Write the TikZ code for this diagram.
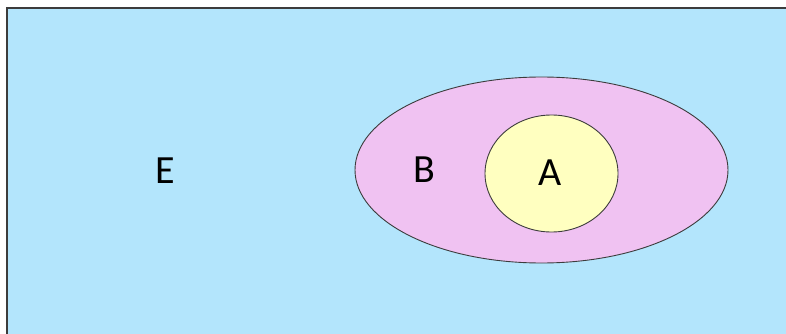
\documentclass[tikz,border=0pt]{standalone}
\usepackage{fontspec}
\setmainfont{Carlito}
\usetikzlibrary{shapes.geometric}
\definecolor{bgblue}{RGB}{179,229,252}
\definecolor{setB}{RGB}{240,194,242}
\definecolor{setA}{RGB}{255,255,192}
\definecolor{edge}{RGB}{60,60,60}
\tikzset{
  setshape/.style={ellipse, draw=edge, line width=0.9pt, inner sep=0pt},
  lbl/.style={font=\fontsize{40}{44}\selectfont, text=black, inner sep=0pt}
}
\begin{document}
\begin{tikzpicture}[x=1pt,y=-1pt]
\useasboundingbox (0,0) rectangle (786,334);
\fill[white] (0,0) rectangle (786,334);
\draw[fill=bgblue, draw=edge, line width=1.8pt] (7,8) rectangle (800,350);
\node[setshape, fill=setB, minimum width=373pt, minimum height=186pt] (B) at (541.5,170) {};
\node[setshape, fill=setA, minimum width=133pt, minimum height=117pt] (A) at (551.5,173.5) {};
\node[lbl] (labE) at (165,171) {E};
\node[lbl] (labB) at (424,170) {B};
\node[lbl] (labA) at (550,172.5) {A};
\end{tikzpicture}
\end{document}
